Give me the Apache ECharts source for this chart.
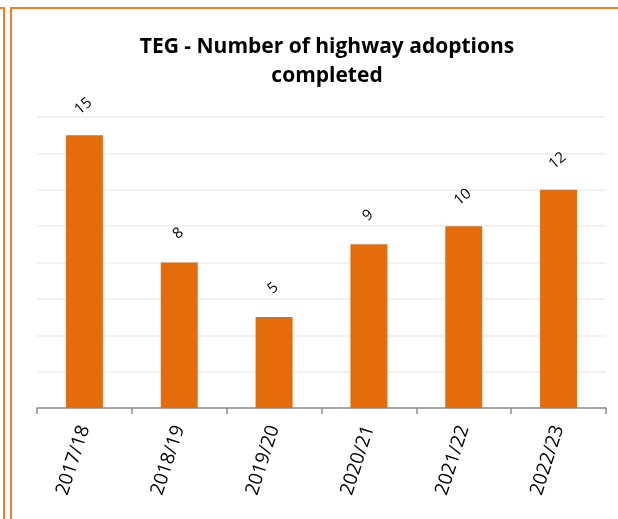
<!DOCTYPE html>
<html>
<head>
<meta charset="utf-8">
<script src="https://cdn.jsdelivr.net/npm/echarts@6/dist/echarts.min.js"></script>
<style>
  html, body { margin: 0; padding: 0; background: #fff; }
  #canvas { width: 618px; height: 519px; }
</style>
</head>
<body>
<div id="canvas"></div>
<script>
var years = ['2017/18', '2018/19', '2019/20', '2020/21', '2021/22', '2022/23'];
var adoptions = [15, 8, 5, 9, 10, 12];
var yTicks = [0, 16, 2]; // min, max, interval

var dom = document.getElementById("canvas");
var myChart = echarts.init(dom);
var option = {
    animation: false,
    textStyle: { fontFamily: 'Open Sans' },
    title: {
        text: 'TEG - Number of highway adoptions\ncompleted',
        left: 322,
        textAlign: 'center',
        top: 28,
        textStyle: {
            fontFamily: 'Open Sans',
            fontSize: 21,
            fontWeight: 'bold',
            color: '#000',
            lineHeight: 29
        }
    },
    graphic: [
        { // outer frame
            type: 'rect',
            shape: { x: 11, y: 8, width: 640, height: 560 },
            style: { fill: null, stroke: '#ED7D31', lineWidth: 2 }
        },
        { // edge of the neighbouring box
            type: 'polyline',
            shape: { points: [[0, 8], [4, 8], [4, 530]] },
            style: { fill: null, stroke: '#ED7D31', lineWidth: 2 }
        }
    ],
    grid: { left: 37, right: 12, top: 117, bottom: 111 },
    xAxis: {
        type: 'category',
        data: years,
        axisLine: { lineStyle: { color: '#8c8c8c', width: 1.5 } },
        axisTick: { show: true, length: 6, lineStyle: { color: '#8c8c8c', width: 1.5 } },
        axisLabel: {
            rotate: 72,
            margin: 18,
            fontSize: 19,
            color: '#000'
        }
    },
    yAxis: {
        type: 'value',
        min: yTicks[0],
        max: yTicks[1],
        interval: yTicks[2],
        axisLabel: { show: false },
        axisLine: { show: false },
        axisTick: { show: false },
        splitLine: { lineStyle: { color: '#ececec', width: 1.5 } }
    },
    series: [
        {
            type: 'bar',
            data: adoptions,
            barWidth: '39%',
            itemStyle: { color: '#E46C0A' },
            label: {
                show: true,
                position: 'top',
                distance: 20,
                offset: [5, 0],
                rotate: 40,
                fontSize: 15,
                color: '#000'
            }
        }
    ]
};
if (option && typeof option === "object") {
    myChart.setOption(option, true);
}
</script>
</body>
</html>
